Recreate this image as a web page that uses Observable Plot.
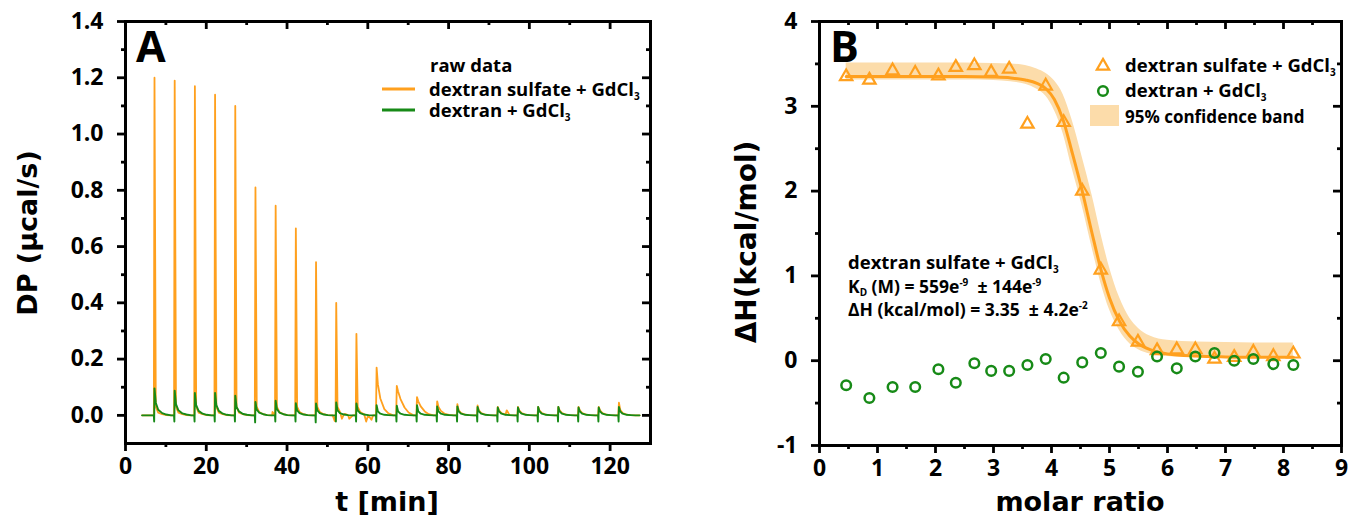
<!DOCTYPE html>
<html><head><meta charset="utf-8">
<script src="https://cdn.jsdelivr.net/npm/d3@7"></script>
<script src="https://cdn.jsdelivr.net/npm/@observablehq/plot@0.6"></script>
<style>
body{margin:0;background:#fff;}
#wrap{position:relative;width:1353px;height:521px;overflow:hidden;background:#fff;}
#wrap > svg{position:absolute;top:0;}
</style></head><body><div id="wrap"></div>
<script>
const ORANGE = "#ffa01e", GREEN = "#178a17", BAND = "#fcdcaa";
const FONT = "'Open Sans', sans-serif";
const TITLE_FONT = "'DejaVu Sans', sans-serif";

// ---------- Panel A: raw ITC trace ----------
const injTime = [7.1,12.1,17.1,22.1,27.1,32.1,37.1,42.1,47.1,52.1,57.1,62.1,67.1,72.1,77.1,82.1,87.1,92.1,97.1,102.1,107.1,112.1,117.1,122.1];
const orangePeak = [1.20,1.19,1.17,1.14,1.10,0.81,0.745,0.665,0.545,0.40,0.29,0.17,0.105,0.065,0.05,0.04,0.035,0.03,0.03,0.03,0.03,0.03,0.03,0.045];
const orangeTail = [
  [0.03,0.01,0.004,0.001],[0.03,0.01,0.004,0.001],[0.03,0.01,0.004,0.001],[0.03,0.01,0.004,0.001],[0.03,0.01,0.004,0.001],
  [0.03,0.012,0.004,0.001],[0.03,0.012,0.004,0.001],[0.03,0.012,0.004,0.001],[0.03,0.012,0.004,0.001],[0.03,0.012,0.004,0.001],[0.03,0.012,0.004,0.001],
  [0.11,0.06,0.022,0.007],[0.085,0.058,0.028,0.01],[0.05,0.032,0.014,0.004],[0.03,0.016,0.005,0.002],
  [0.018,0.008,0.003,0.001],[0.018,0.008,0.003,0.001],[0.018,0.008,0.003,0.001],[0.018,0.008,0.003,0.001],[0.018,0.008,0.003,0.001],
  [0.018,0.008,0.003,0.001],[0.018,0.008,0.003,0.001],[0.018,0.008,0.003,0.001],[0.02,0.008,0.003,0.001]
];
const orangeNoise = [[36.4,0.012],[51.8,-0.02],[53.6,-0.012],[54.6,0.004],[55.4,-0.012],[59.6,-0.022],[60.9,-0.016],[94.4,0.018]];
const greenPeak = [0.096,0.088,0.080,0.080,0.070,0.048,0.052,0.043,0.042,0.046,0.042,0.036,0.034,0.036,0.032,0.032,0.030,0.028,0.028,0.030,0.030,0.028,0.028,0.030];
const greenDip = [-0.022,-0.022,-0.022,-0.022,-0.022,-0.025,-0.022,-0.022,-0.025,-0.022,-0.022,-0.022,-0.022,-0.022,-0.022,-0.022,-0.022,-0.022,-0.022,-0.022,-0.022,-0.022,-0.022,-0.022];
const greenTail = [
  [0.045,0.02,0.008,0.003],[0.04,0.018,0.007,0.003],[0.036,0.016,0.006,0.002],[0.036,0.016,0.006,0.002],[0.03,0.014,0.005,0.002],
  [0.02,0.01,0.004,0.001],[0.022,0.01,0.004,0.001],[0.018,0.008,0.003,0.001],[0.018,0.008,0.003,0.001],[0.018,0.008,0.003,0.001],[0.018,0.008,0.003,0.001],
  [0.014,0.006,0.002,0.001],[0.014,0.006,0.002,0.001],[0.014,0.006,0.002,0.001],[0.014,0.006,0.002,0.001],[0.014,0.006,0.002,0.001],
  [0.014,0.006,0.002,0.001],[0.014,0.006,0.002,0.001],[0.014,0.006,0.002,0.001],[0.014,0.006,0.002,0.001],[0.014,0.006,0.002,0.001],
  [0.014,0.006,0.002,0.001],[0.014,0.006,0.002,0.001],[0.014,0.006,0.002,0.001]
];
const tailOffsets = [0.4, 1.0, 2.0, 3.0];
const traceStart = 4.1, traceEnd = 127.3;

const aXMajor = [0,20,40,60,80,100,120], aXMinor = [10,30,50,70,90,110];
const aYMajor = [0,0.2,0.4,0.6,0.8,1.0,1.2,1.4], aYMinor = [0.1,0.3,0.5,0.7,0.9,1.1,1.3];

// ---------- Panel B: integrated heats ----------
const molarRatio = [0.46,0.86,1.26,1.65,2.05,2.35,2.67,2.96,3.27,3.585,3.90,4.21,4.53,4.85,5.165,5.49,5.82,6.16,6.48,6.81,7.15,7.48,7.825,8.17];
const dHsulfate = [3.35,3.31,3.42,3.39,3.36,3.46,3.48,3.40,3.44,2.79,3.24,2.81,2.00,1.07,0.46,0.22,0.12,0.13,0.13,0.02,0.04,0.10,0.05,0.08];
const dHdextran = [-0.29,-0.44,-0.31,-0.31,-0.10,-0.26,-0.03,-0.12,-0.12,-0.05,0.02,-0.20,-0.02,0.09,-0.07,-0.13,0.05,-0.09,0.05,0.09,0.00,0.02,-0.04,-0.05];
const fitX  = [0.46,1.5,2.5,3.0,3.3,3.55,3.75,3.9,4.05,4.2,4.35,4.53,4.7,4.85,5.0,5.17,5.35,5.5,5.7,6.0,6.5,7.0,7.5,8.17];
const fitY  = [3.35,3.35,3.35,3.345,3.335,3.31,3.27,3.21,3.08,2.84,2.47,2.0,1.5,1.08,0.74,0.47,0.29,0.2,0.13,0.08,0.055,0.045,0.04,0.04];
const bandHi = [3.51,3.51,3.51,3.505,3.5,3.48,3.44,3.39,3.3,3.14,2.85,2.4,1.95,1.5,1.1,0.75,0.5,0.38,0.29,0.24,0.22,0.215,0.21,0.21];
const bandLo = [3.31,3.31,3.31,3.305,3.29,3.26,3.2,3.12,2.95,2.68,2.28,1.82,1.33,0.92,0.6,0.36,0.2,0.13,0.08,0.05,0.035,0.03,0.03,0.03];

const bXMajor = [0,1,2,3,4,5,6,7,8,9], bXMinor = [0.5,1.5,2.5,3.5,4.5,5.5,6.5,7.5,8.5];
const bYMajor = [-1,0,1,2,3,4], bYMinor = [-0.5,0.5,1.5,2.5,3.5];

// ---------- build tables ----------
function trace(peaks, tails, dips, extra) {
  const pts = [{t: traceStart, v: 0}];
  injTime.forEach((t0, i) => {
    pts.push({t: t0 - 0.08, v: 0});
    if (dips) pts.push({t: t0, v: dips[i]});
    pts.push({t: t0 + 0.08, v: peaks[i]});
    tailOffsets.forEach((dt, j) => pts.push({t: t0 + dt, v: tails[i][j]}));
    pts.push({t: t0 + 4.2, v: 0});
  });
  pts.push({t: traceEnd, v: 0});
  extra.forEach(([t, v]) => pts.push({t, v}));
  return pts.sort((a, b) => a.t - b.t);
}
const orangeTrace = trace(orangePeak, orangeTail, null, orangeNoise);
const greenTrace = trace(greenPeak, greenTail, greenDip, []);
const pointsS = molarRatio.map((x, i) => ({x, y: dHsulfate[i]}));
const pointsD = molarRatio.map((x, i) => ({x, y: dHdextran[i]}));
const fit = fitX.map((x, i) => ({x, y: fitY[i], hi: bandHi[i], lo: bandLo[i]}));

function frameTicks(xMaj, xMin, yMaj, yMin, innerW, innerH, yFmt) {
  const sw = 2.8;
  return [
    Plot.frame({stroke: "black", strokeWidth: 3}),
    Plot.axisY(yMaj, {anchor: "left", tickSize: 8, tickPadding: 14, strokeWidth: sw, tickFormat: yFmt, label: null, fontSize: 23, fontWeight: "bold"}),
    Plot.axisY(yMin, {anchor: "left", tickSize: 4, strokeWidth: sw, tickFormat: () => "", label: null}),
    Plot.axisX(xMaj, {anchor: "bottom", tickSize: 8, tickPadding: 6, strokeWidth: sw, tickFormat: d => String(d), label: null, fontSize: 23, fontWeight: "bold"}),
    Plot.axisX(xMin, {anchor: "bottom", tickSize: 4, strokeWidth: sw, tickFormat: () => "", label: null}),
    Plot.tickY(yMaj, {y: d => d, insetLeft: innerW - 8, strokeWidth: sw}),
    Plot.tickY(yMin, {y: d => d, insetLeft: innerW - 4, strokeWidth: sw}),
    Plot.tickX(xMaj, {x: d => d, insetBottom: innerH - 8, strokeWidth: sw}),
    Plot.tickX(xMin, {x: d => d, insetBottom: innerH - 4, strokeWidth: sw})
  ];
}

const style = {fontFamily: FONT, fontWeight: "bold", fontSize: "23px", color: "black", background: "transparent", overflow: "visible"};

const A = {w: 680, h: 521, ml: 125, mr: 30, mt: 21, mb: 78};
const plotA = Plot.plot({
  width: A.w, height: A.h, marginLeft: A.ml, marginRight: A.mr, marginTop: A.mt, marginBottom: A.mb,
  x: {domain: [0, 130], axis: null}, y: {domain: [-0.1, 1.4], axis: null},
  style,
  marks: [
    Plot.line(orangeTrace, {x: "t", y: "v", stroke: ORANGE, strokeWidth: 1.8}),
    Plot.line(greenTrace, {x: "t", y: "v", stroke: GREEN, strokeWidth: 1.9}),
    ...frameTicks(aXMajor, aXMinor, aYMajor, aYMinor, A.w - A.ml - A.mr, A.h - A.mt - A.mb, d3.format(".1f"))
  ]
});
plotA.style.left = "0px";

const B = {w: 673, h: 521, ml: 139, mr: 12, mt: 21, mb: 76};
const plotB = Plot.plot({
  width: B.w, height: B.h, marginLeft: B.ml, marginRight: B.mr, marginTop: B.mt, marginBottom: B.mb,
  x: {domain: [0, 9], axis: null}, y: {domain: [-1, 4], axis: null},
  style,
  marks: [
    Plot.areaY(fit, {x: "x", y1: "lo", y2: "hi", fill: BAND, curve: "monotone-x"}),
    Plot.line(fit, {x: "x", y: "y", stroke: ORANGE, strokeWidth: 3, curve: "monotone-x"}),
    Plot.dot(pointsS, {x: "x", y: "y", symbol: "triangle", r: 4.6, stroke: ORANGE, strokeWidth: 2.2, fill: "none"}),
    Plot.dot(pointsD, {x: "x", y: "y", symbol: "circle", r: 4.8, stroke: GREEN, strokeWidth: 2.5, fill: "none"}),
    ...frameTicks(bXMajor, bXMinor, bYMajor, bYMinor, B.w - B.ml - B.mr, B.h - B.mt - B.mb, d => String(d))
  ]
});
plotB.style.left = "680px";

const wrap = document.getElementById("wrap");
wrap.appendChild(plotA);
wrap.appendChild(plotB);

// ---------- overlay text: panel letters, legends, annotation, axis titles ----------
const ov = d3.select(wrap).append("svg").attr("width", 1353).attr("height", 521)
  .style("left", "0px").style("pointer-events", "none")
  .attr("font-family", FONT).attr("font-weight", 700).attr("fill", "black");
function txt(x, y, html, size, anchor = "start", rotate = 0, family = FONT) {
  const t = ov.append("text").attr("font-size", size).attr("text-anchor", anchor).attr("font-family", family).html(html);
  if (rotate) t.attr("transform", `translate(${x},${y}) rotate(${rotate})`);
  else t.attr("x", x).attr("y", y);
  return t;
}
const sub3 = '<tspan dy="4" font-size="10">3</tspan>';
// panel letters
txt(136, 62, "A", 43);
txt(830, 62, "B", 43);
// legend A
txt(430, 72, "raw data", 18.5);
ov.append("line").attr("x1", 382).attr("x2", 415).attr("y1", 89).attr("y2", 89).attr("stroke", ORANGE).attr("stroke-width", 3);
ov.append("line").attr("x1", 382).attr("x2", 415).attr("y1", 110).attr("y2", 110).attr("stroke", GREEN).attr("stroke-width", 3);
txt(429, 96, "dextran sulfate + GdCl" + sub3, 18.5);
txt(429, 117, "dextran + GdCl" + sub3, 18.5);
// legend B
ov.append("path").attr("transform", "translate(1103,66)").attr("d", d3.symbol(d3.symbolTriangle, Math.PI * 4.6 * 4.6)())
  .attr("fill", "none").attr("stroke", ORANGE).attr("stroke-width", 2.2);
ov.append("circle").attr("cx", 1103).attr("cy", 91).attr("r", 4.8).attr("fill", "none").attr("stroke", GREEN).attr("stroke-width", 2.5);
ov.append("rect").attr("x", 1090).attr("y", 105).attr("width", 29).attr("height", 21).attr("fill", BAND);
txt(1125, 72, "dextran sulfate + GdCl" + sub3, 18.5);
txt(1125, 97, "dextran + GdCl" + sub3, 18.5);
txt(1125, 123, "95% confidence band", 17);
// annotation
txt(848, 269, "dextran sulfate + GdCl" + sub3, 18.5);
txt(848, 293, 'K<tspan dy="3" font-size="10">D</tspan><tspan dy="-3"> (M) = 559e</tspan><tspan dy="-7" font-size="10">-9</tspan><tspan dy="7">\u00a0\u00a0± 144e</tspan><tspan dy="-7" font-size="10">-9</tspan>', 17.5);
txt(848, 316, 'ΔH (kcal/mol) = 3.35\u00a0\u00a0± 4.2e<tspan dy="-7" font-size="10">-2</tspan>', 17.5);
// axis titles
txt(387, 511, "t [min]", 27, "middle", 0, TITLE_FONT);
txt(1080, 511, "molar ratio", 27, "middle", 0, TITLE_FONT);
txt(37, 233, "DP (µcal/s)", 27, "middle", -90, TITLE_FONT);
txt(756, 242, "ΔH(kcal/mol)", 28, "middle", -90, TITLE_FONT);
</script></body></html>
